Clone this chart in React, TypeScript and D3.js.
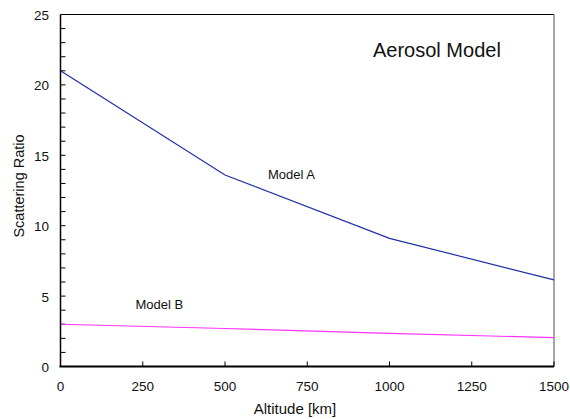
import React from "react";
import * as d3 from "d3";

const altitudes = [0, 500, 1000, 1500];
const modelA = [21.0, 13.6, 9.1, 6.15];
const modelB = [3.0, 2.7, 2.35, 2.05];
const xTicks = [0, 250, 500, 750, 1000, 1250, 1500];
const yTicks = [0, 5, 10, 15, 20, 25];
const yMinorTicks = d3.range(0, 26, 1);

const W = 570, H = 419;
const left = 60.5, right = 554, top = 14.5, bottom = 366.5;
const font = "'Liberation Sans', Arial, Helvetica, sans-serif";

export default function App() {
  const x = d3.scaleLinear().domain([0, 1500]).range([left, right]);
  const y = d3.scaleLinear().domain([0, 25]).range([bottom, top]);
  const line = d3.line<number>().x((_, i) => x(altitudes[i])).y((d) => y(d));
  return (
    <svg width={W} height={H} style={{ position: "absolute", left: 0, top: 0, background: "#fff" }}>
      <rect x={0} y={0} width={W} height={H} fill="#fff" />
      <line x1={left} x2={right} y1={top} y2={top} stroke="#000" strokeWidth={1} />
      <line x1={right} x2={right} y1={top} y2={bottom} stroke="#888" strokeWidth={1.5} />
      {yMinorTicks.map((t) => (
        <line key={"m" + t} x1={left} x2={left + 5} y1={y(t)} y2={y(t)} stroke="#000" strokeWidth={1} />
      ))}
      {xTicks.map((t) => (
        <line key={"x" + t} x1={x(t)} x2={x(t)} y1={bottom} y2={bottom - 5} stroke="#000" strokeWidth={1} />
      ))}
      <path d={line(modelA) || ""} fill="none" stroke="#1f2fa8" strokeWidth={1.2} />
      <path d={line(modelB) || ""} fill="none" stroke="#ff33ff" strokeWidth={1.2} />
      <line x1={left} x2={left} y1={top} y2={bottom} stroke="#000" strokeWidth={1.5} />
      <line x1={left - 1} x2={right} y1={bottom} y2={bottom} stroke="#000" strokeWidth={2} />
      {yTicks.map((t) => (
        <text key={"yl" + t} x={49} y={y(t) + 5.5} textAnchor="end" fontFamily={font} fontSize={13.5} fill="#111">
          {t}
        </text>
      ))}
      {xTicks.map((t) => (
        <text key={"xl" + t} x={x(t)} y={390.5} textAnchor="middle" fontFamily={font} fontSize={13.5} fill="#111">
          {t}
        </text>
      ))}
      <text x={295} y={414} textAnchor="middle" fontFamily={font} fontSize={15} fill="#111">
        Altitude [km]
      </text>
      <text transform="translate(24, 186) rotate(-90)" textAnchor="middle" fontFamily={font} fontSize={14.5} fill="#111">
        Scattering Ratio
      </text>
      <text x={373} y={57} fontFamily={font} fontSize={20} fill="#111">
        Aerosol Model
      </text>
      <text x={268} y={179} fontFamily={font} fontSize={13} fill="#111">
        Model A
      </text>
      <text x={135.5} y={309} fontFamily={font} fontSize={13} fill="#111">
        Model B
      </text>
    </svg>
  );
}
